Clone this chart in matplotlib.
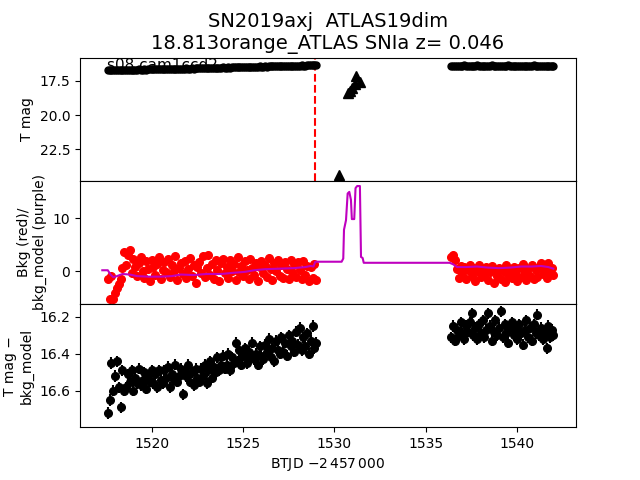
import matplotlib
matplotlib.use("Agg")
import matplotlib.pyplot as plt
import numpy as np

# TESS sector 8 light curve, first orbit
t1 = [1517.6, 1517.7, 1517.8, 1517.9, 1518.0, 1518.1, 1518.2, 1518.3, 1518.4, 1518.5,
      1518.6, 1518.7, 1518.8, 1518.9, 1519.0, 1519.1, 1519.2, 1519.3, 1519.4, 1519.5,
      1519.6, 1519.7, 1519.8, 1519.9, 1520.0, 1520.1, 1520.2, 1520.3, 1520.4, 1520.5,
      1520.6, 1520.7, 1520.8, 1520.9, 1521.0, 1521.1, 1521.2, 1521.3, 1521.4, 1521.5,
      1521.6, 1521.7, 1521.8, 1521.9, 1522.0, 1522.1, 1522.2, 1522.3, 1522.4, 1522.5,
      1522.6, 1522.7, 1522.8, 1522.9, 1523.0, 1523.1, 1523.2, 1523.3, 1523.4, 1523.5,
      1523.6, 1523.7, 1523.8, 1523.9, 1524.0, 1524.1, 1524.2, 1524.3, 1524.4, 1524.5,
      1524.6, 1524.7, 1524.8, 1524.9, 1525.0, 1525.1, 1525.2, 1525.3, 1525.4, 1525.5,
      1525.6, 1525.7, 1525.8, 1525.9, 1526.0, 1526.1, 1526.2, 1526.3, 1526.4, 1526.5,
      1526.6, 1526.7, 1526.8, 1526.9, 1527.0, 1527.1, 1527.2, 1527.3, 1527.4, 1527.5,
      1527.6, 1527.7, 1527.8, 1527.9, 1528.0, 1528.1, 1528.2, 1528.3, 1528.4, 1528.5,
      1528.6, 1528.7, 1528.8, 1528.9, 1528.98]
# second orbit
t2 = [1536.4, 1536.5, 1536.6, 1536.7, 1536.8, 1536.9, 1537.0, 1537.1, 1537.2, 1537.3,
      1537.4, 1537.5, 1537.6, 1537.7, 1537.8, 1537.9, 1538.0, 1538.1, 1538.2, 1538.3,
      1538.4, 1538.5, 1538.6, 1538.7, 1538.8, 1538.9, 1539.0, 1539.1, 1539.2, 1539.3,
      1539.4, 1539.5, 1539.6, 1539.7, 1539.8, 1539.9, 1540.0, 1540.1, 1540.2, 1540.3,
      1540.4, 1540.5, 1540.6, 1540.7, 1540.8, 1540.9, 1541.0, 1541.1, 1541.2, 1541.3,
      1541.4, 1541.5, 1541.6, 1541.7, 1541.8, 1541.9, 1541.97]

mag1 = [16.72, 16.71, 16.73, 16.70, 16.72, 16.70, 16.71, 16.69, 16.71, 16.70,
        16.69, 16.70, 16.68, 16.69, 16.67, 16.69, 16.68, 16.66, 16.68, 16.67,
        16.66, 16.67, 16.65, 16.66, 16.64, 16.66, 16.65, 16.63, 16.65, 16.64,
        16.62, 16.64, 16.63, 16.61, 16.63, 16.62, 16.60, 16.62, 16.61, 16.60,
        16.59, 16.61, 16.60, 16.58, 16.60, 16.59, 16.57, 16.59, 16.58, 16.56,
        16.56, 16.57, 16.55, 16.56, 16.54, 16.56, 16.55, 16.53, 16.55, 16.54,
        16.52, 16.54, 16.53, 16.51, 16.53, 16.52, 16.50, 16.52, 16.51, 16.49,
        16.49, 16.50, 16.48, 16.49, 16.47, 16.49, 16.48, 16.46, 16.48, 16.47,
        16.45, 16.47, 16.46, 16.44, 16.46, 16.45, 16.43, 16.45, 16.44, 16.42,
        16.42, 16.43, 16.41, 16.42, 16.40, 16.42, 16.41, 16.39, 16.41, 16.40,
        16.38, 16.40, 16.39, 16.37, 16.39, 16.38, 16.36, 16.38, 16.37, 16.35,
        16.35, 16.36, 16.34, 16.33, 16.34]
mag2 = [16.40, 16.38, 16.41, 16.37, 16.39, 16.40, 16.38, 16.36, 16.39, 16.41,
        16.38, 16.40, 16.37, 16.39, 16.36, 16.40, 16.38, 16.41, 16.37, 16.39,
        16.40, 16.38, 16.36, 16.39, 16.41, 16.38, 16.40, 16.37, 16.39, 16.38,
        16.40, 16.36, 16.39, 16.41, 16.38, 16.40, 16.37, 16.39, 16.38, 16.40,
        16.41, 16.37, 16.39, 16.38, 16.40, 16.36, 16.39, 16.41, 16.38, 16.40,
        16.37, 16.39, 16.38, 16.40, 16.39, 16.37, 16.39]

bkg1 = [-1.4, -5.2, -0.8, -5.1, -4.0, -3.2, -2.3, -1.4, 0.6, 3.6,
        1.2, 3.0, 4.0, -0.4, 2.4, 0.8, -0.9, 1.6, 2.7, 0.1,
        -1.2, 1.9, 0.5, -1.9, 2.2, 0.9, -0.6, 1.4, 2.6, -1.4,
        0.3, 1.8, -0.2, 2.3, -1.0, 1.1, 0.0, 2.9, -1.6, 0.7,
        1.5, -0.5, 2.0, -1.3, 0.4, 2.5, -0.8, 1.2, -2.1, 0.9,
        1.7, -0.3, 2.8, -1.1, 0.6, 3.1, -0.7, 1.3, -1.5, 2.1,
        0.2, -1.8, 1.6, 2.4, -0.4, 0.8, -1.2, 2.2, 0.1, 1.4,
        -1.6, 2.6, -0.2, 1.0, -0.9, 1.9, 0.3, -1.4, 2.3, 0.7,
        -0.6, 1.5, -1.9, 0.9, 2.0, -0.3, 1.2, -1.1, 2.5, 0.4,
        -1.7, 1.6, 0.0, 2.2, -0.8, 1.1, -1.3, 1.8, 0.5, -1.5,
        2.1, -0.2, 1.3, -1.0, 1.7, 0.2, -1.4, 1.9, -0.6, 1.0,
        -1.8, 0.8, -1.2, 1.4, -1.7]
bkg2 = [2.6, 3.1, 2.2, 0.4, -1.2, 1.0, -0.3, 0.9, -1.5, 0.2,
        1.2, -0.8, 0.6, -1.9, 0.1, 1.1, -1.1, 0.4, -0.5, 0.8,
        -1.6, -0.2, 1.0, -2.2, 0.3, -0.9, 0.7, -1.4, 0.0, -2.0,
        1.2, -0.6, 0.5, -1.3, 0.9, -0.4, -1.8, 0.6, -1.0, 1.3,
        -0.2, -1.7, 0.4, -0.8, 1.1, -1.5, 0.2, -1.1, 0.8, 1.5,
        -0.5, 0.3, -1.2, 1.6, -0.3, 0.7, -0.6]

model_t = [1517.30, 1517.60, 1517.75, 1517.90, 1518.10, 1518.40, 1518.80, 1519.20, 1519.80, 1520.50,
           1521.10, 1521.60, 1522.30, 1523.00, 1523.80, 1524.40, 1525.10, 1525.60, 1526.20, 1527.00,
           1527.80, 1528.40, 1528.70, 1528.85, 1528.95, 1530.39, 1530.48, 1530.52, 1530.63, 1530.72,
           1530.81, 1530.90, 1530.95, 1531.08, 1531.15, 1531.24, 1531.39, 1531.45, 1531.54, 1531.60,
           1536.30, 1536.50, 1536.70, 1537.20, 1537.80, 1538.40, 1539.00, 1539.60, 1540.20, 1540.80,
           1541.30, 1541.70, 1541.97]
model_v = [0.2, 0.2, -0.6, -1.1, -0.9, -0.5, -0.6, -0.9, -1.0, -1.0,
           -0.9, -0.6, -0.7, -0.5, -0.5, -0.3, -0.1, 0.2, 0.4, 0.5,
           0.6, 0.8, 1.0, 0.9, 1.8, 1.8, 2.4, 7.8, 9.6, 14.6,
           14.9, 13.4, 9.8, 9.8, 15.6, 16.0, 16.0, 2.7, 2.5, 1.6,
           1.6, 1.3, 0.8, 0.8, 0.9, 0.7, 0.6, 0.7, 0.9, 0.9,
           1.0, 0.8, 0.5]

dm1 = [16.72, 16.65, 16.45, 16.60, 16.52, 16.44, 16.58, 16.69, 16.49, 16.60,
       16.58, 16.51, 16.55, 16.49, 16.60, 16.53, 16.56, 16.48, 16.57, 16.54,
       16.50, 16.59, 16.52, 16.55, 16.49, 16.56, 16.51, 16.58, 16.49, 16.54,
       16.56, 16.49, 16.53, 16.47, 16.58, 16.51, 16.54, 16.46, 16.55, 16.52,
       16.48, 16.62, 16.50, 16.52, 16.46, 16.55, 16.50, 16.57, 16.48, 16.53,
       16.55, 16.48, 16.52, 16.46, 16.56, 16.49, 16.44, 16.53, 16.47, 16.50,
       16.42, 16.49, 16.46, 16.41, 16.48, 16.46, 16.40, 16.49, 16.42, 16.45,
       16.34, 16.44, 16.38, 16.46, 16.41, 16.37, 16.45, 16.39, 16.42, 16.34,
       16.43, 16.40, 16.46, 16.36, 16.41, 16.43, 16.35, 16.39, 16.32, 16.42,
       16.37, 16.44, 16.33, 16.38, 16.40, 16.31, 16.39, 16.34, 16.41, 16.30,
       16.36, 16.33, 16.39, 16.28, 16.35, 16.26, 16.38, 16.31, 16.36, 16.29,
       16.40, 16.33, 16.25, 16.37, 16.34]
dm2 = [16.31, 16.25, 16.33, 16.27, 16.30, 16.23, 16.29, 16.32, 16.25, 16.28,
       16.23, 16.18, 16.30, 16.26, 16.32, 16.24, 16.29, 16.22, 16.31, 16.27,
       16.18, 16.25, 16.33, 16.28, 16.22, 16.30, 16.26, 16.17, 16.31, 16.24,
       16.29, 16.34, 16.26, 16.23, 16.30, 16.27, 16.32, 16.24, 16.29, 16.35,
       16.27, 16.22, 16.31, 16.26, 16.33, 16.24, 16.29, 16.19, 16.30, 16.26,
       16.32, 16.28, 16.37, 16.25, 16.31, 16.27, 16.30]

# ATLAS orange-band detections
atlas_t = [1530.26, 1530.76, 1530.85, 1530.95, 1531.10, 1531.40, 1531.20]
atlas_m = [24.39, 18.40, 18.20, 18.00, 17.70, 17.55, 17.10]

t_peak = 1528.93

t = np.array(t1 + t2)
mag = np.array(mag1 + mag2)
bkg = np.array(bkg1 + bkg2)
dm = np.array(dm1 + dm2)

fig, (ax1, ax2, ax3) = plt.subplots(3, 1, sharex=True, figsize=(6.4, 4.8))
fig.subplots_adjust(hspace=0)

ax1.text(1517.55, 16.70, "s08 cam1ccd2", fontsize=11, zorder=1)
ax1.errorbar(t, mag, yerr=0.03, fmt="o", color="k", ms=5, zorder=2)
ax1.plot(atlas_t, atlas_m, "^", color="k", ms=7, zorder=3)
ax1.axvline(t_peak, color="r", ls="--", lw=1.5)
ax1.set_ylim(24.80, 15.79)
ax1.set_ylabel("T mag")
ax1.set_title("SN2019axj  ATLAS19dim\n18.813orange_ATLAS SNIa z= 0.046", fontsize=14)

ax2.plot(t, bkg, "o", color="r", ms=5.5)
ax2.plot(model_t, model_v, color="m", lw=1.5)
ax2.set_ylim(-6.13, 16.98)
ax2.set_ylabel("Bkg (red)/\nbkg_model (purple)")

ax3.errorbar(t, dm, yerr=0.03, fmt="o", color="k", ms=5.5)
ax3.set_ylim(16.797, 16.131)
ax3.set_ylabel("T mag \u2212\nbkg_model")
ax3.set_xlabel(r"BTJD $-2\,457\,000$")
ax3.set_xlim(1516.08, 1543.21)

for ax in (ax1, ax2):
    ax.tick_params(axis="x", bottom=False)

fig.savefig("out.png", dpi=100)
